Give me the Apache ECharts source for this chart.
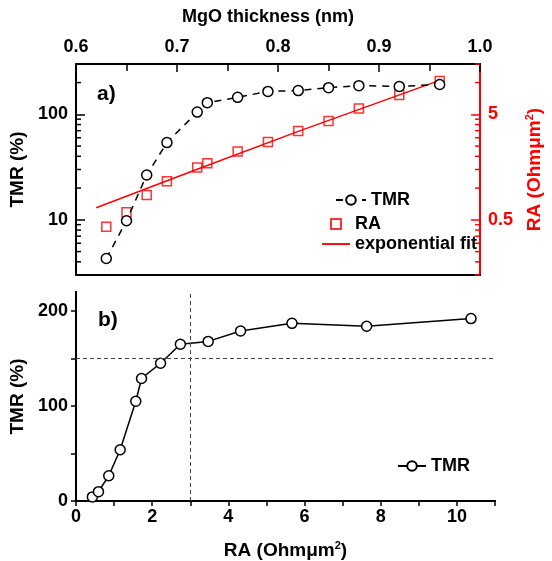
<!DOCTYPE html>
<html>
<head>
<meta charset="utf-8">
<script src="https://cdn.jsdelivr.net/npm/echarts@6/dist/echarts.min.js"></script>
<style>
html,body{margin:0;padding:0;background:#fff;}
#chart{width:552px;height:561px;}
</style>
</head>
<body>
<div id="chart"></div>
<script>
// ---- data ----
const thickness = [0.63, 0.65, 0.67, 0.69, 0.72, 0.73, 0.76, 0.79, 0.82, 0.85, 0.88, 0.92, 0.96];
const tmr = [4.3, 9.8, 26.6, 54, 105, 129, 145, 165, 168, 179, 187, 184, 192];
const ra = [0.43, 0.59, 0.86, 1.16, 1.57, 1.72, 2.22, 2.74, 3.47, 4.32, 5.67, 7.63, 10.37];
const fitThickness = [0.62, 0.72, 0.82, 0.96];
const fitRA = [0.65, 1.51, 3.45, 10.5];
const thicknessLabels = [0.6, 0.7, 0.8, 0.9, 1.0];
const tmrLogMajorTicks = [10, 100];
const tmrLogMinorTicks = [4, 5, 6, 7, 8, 9, 20, 30, 40, 50, 60, 70, 80, 90, 200, 300];
const raMajorTicks = [0.5, 5];
const raMinorTicks = [0.15, 0.2, 0.25, 0.3, 0.35, 0.4, 0.45, 1, 1.5, 2, 2.5, 3, 3.5, 4, 4.5, 10, 15];
const raLinearLabels = [0, 2, 4, 6, 8, 10];
const tmrLinearLabels = [0, 100, 200];
const tmrLinearTicks = [0, 50, 100, 150, 200];
const refRA = 3;
const refTMR = 150;

const F = "'Liberation Sans', Arial, sans-serif";
const RED = '#ff0000';
const lbl = (c) => ({fontFamily: F, fontSize: 18, fontWeight: 'bold', color: c || '#000'});
const axLine = (c) => ({show: true, lineStyle: {color: c || '#000', width: 2}});
const supRich = (c) => ({sup: {fontFamily: F, fontSize: 11, fontWeight: 'bold', color: c, verticalAlign: 'top', padding: [0, 0, 10, 0]}});

// minor tick marks for the log axes, positioned through the axis scale
function tickRenderer(side, len, color) {
  return function (params, api) {
    const cs = params.coordSys;
    const p = api.coord([api.value(0), api.value(1)]);
    const x0 = side === 'left' ? cs.x : cs.x + cs.width;
    const dx = side === 'left' ? len : -len;
    return {type: 'line', shape: {x1: x0, y1: p[1], x2: x0 + dx, y2: p[1]}, style: {stroke: color, lineWidth: 1.5}};
  };
}

const option = {
  animation: false,
  backgroundColor: '#fff',
  textStyle: {fontFamily: F},
  grid: [
    {left: 76, right: 57, top: 64, height: 211},
    {left: 76, right: 57, top: 292, height: 209}
  ],
  xAxis: [
    { // 0: top thickness axis
      type: 'value', gridIndex: 0, position: 'top', min: 0.6, max: 1.0, interval: 0.1,
      axisLine: axLine(), splitLine: {show: false},
      axisTick: {inside: true, length: 8, lineStyle: {width: 1.5, color: '#000'}},
      minorTick: {show: true, splitNumber: 2, length: 7, lineStyle: {width: 1.5, color: '#000'}},
      axisLabel: Object.assign(lbl(), {margin: 8, customValues: thicknessLabels, formatter: v => Number(v).toFixed(1)}),
      name: 'MgO thickness (nm)', nameLocation: 'middle', nameGap: 38,
      nameTextStyle: {fontFamily: F, fontSize: 18, fontWeight: 'bold', color: '#000', padding: [0, 20, 0, 0]}
    },
    { // 1: top panel bottom frame
      type: 'value', gridIndex: 0, position: 'bottom', min: 0.6, max: 1.0,
      axisLine: axLine(), axisTick: {show: false}, axisLabel: {show: false}, splitLine: {show: false}
    },
    { // 2: bottom panel RA axis
      type: 'value', gridIndex: 1, position: 'bottom', min: 0, max: 11, interval: 1,
      axisLine: axLine(), splitLine: {show: false},
      axisTick: {inside: false, length: 5, lineStyle: {width: 1.5, color: '#000'}},
      axisLabel: Object.assign(lbl(), {margin: 7, customValues: raLinearLabels}),
      name: 'RA (Ohmμm{sup|2})', nameLocation: 'middle', nameGap: 39,
      nameTextStyle: {fontFamily: F, fontSize: 19, fontWeight: 'bold', color: '#000', rich: supRich('#000')}
    },
    { // 3: bottom panel top frame
      type: 'value', gridIndex: 1, position: 'top', min: 0, max: 11, interval: 1,
      axisLine: axLine(), splitLine: {show: false},
      axisTick: {inside: true, length: 4, lineStyle: {width: 1.5, color: '#000'}},
      axisLabel: {show: false}
    }
  ],
  yAxis: [
    { // 0: TMR log
      type: 'log', logBase: 10, gridIndex: 0, position: 'left', min: 3, max: 300,
      axisLine: axLine(), splitLine: {show: false}, minorTick: {show: false},
      axisTick: {inside: true, length: 9, customValues: tmrLogMajorTicks, lineStyle: {width: 1.5, color: '#000'}},
      axisLabel: Object.assign(lbl(), {margin: 8, customValues: tmrLogMajorTicks}),
      name: 'TMR (%)', nameLocation: 'middle', nameGap: 43,
      nameTextStyle: {fontFamily: F, fontSize: 19, fontWeight: 'bold', color: '#000'}
    },
    { // 1: RA log (right, red)
      type: 'log', logBase: 10, gridIndex: 0, position: 'right', min: 0.15, max: 15,
      axisLine: axLine(RED), splitLine: {show: false}, minorTick: {show: false},
      axisTick: {inside: true, length: 9, customValues: raMajorTicks, lineStyle: {width: 1.5, color: RED}},
      axisLabel: Object.assign(lbl(RED), {margin: 8, customValues: raMajorTicks}),
      name: 'RA (Ohmμm{sup|2})', nameLocation: 'middle', nameGap: 41, nameRotate: 90,
      nameTextStyle: {fontFamily: F, fontSize: 19, fontWeight: 'bold', color: RED, rich: supRich(RED)}
    },
    { // 2: bottom TMR linear
      type: 'value', gridIndex: 1, position: 'left', min: 0, max: 220,
      axisLine: axLine(), splitLine: {show: false},
      axisTick: {inside: false, length: 5, customValues: tmrLinearTicks, lineStyle: {width: 1.5, color: '#000'}},
      axisLabel: Object.assign(lbl(), {margin: 8, customValues: tmrLinearLabels}),
      name: 'TMR (%)', nameLocation: 'middle', nameGap: 43,
      nameTextStyle: {fontFamily: F, fontSize: 19, fontWeight: 'bold', color: '#000'}
    },
    { // 3: bottom right frame
      type: 'value', gridIndex: 1, position: 'right', min: 0, max: 220,
      axisLine: axLine(), splitLine: {show: false}, axisLabel: {show: false},
      axisTick: {inside: true, length: 5, customValues: tmrLinearTicks, lineStyle: {width: 1.5, color: '#000'}}
    }
  ],
  legend: [
    {data: ['TMR'], left: 330, top: 186, orient: 'vertical', itemWidth: 30, itemHeight: 12, selectedMode: false, textStyle: lbl()},
    {data: [{name: 'RA', icon: 'path://M0,0H10V10H0Z'}, {name: 'exponential fit', icon: 'path://M0,0H30V2H0Z'}],
      left: 317, top: 210, orient: 'vertical', itemWidth: 28, itemHeight: 10, itemGap: 2, selectedMode: false, textStyle: lbl()},
    {data: ['TMR '], left: 392, top: 452, itemWidth: 28, itemHeight: 12, selectedMode: false, textStyle: lbl()}
  ],
  graphic: [
    {type: 'text', left: 97, top: 84, style: {text: 'a)', font: "bold 21px 'Liberation Sans', Arial", fill: '#000'}},
    {type: 'text', left: 98, top: 310, style: {text: 'b)', font: "bold 21px 'Liberation Sans', Arial", fill: '#000'}}
  ],
  series: [
    {name: 'tmr-minor-ticks', type: 'custom', xAxisIndex: 0, yAxisIndex: 0, silent: true, clip: false,
      data: tmrLogMinorTicks.map(v => [0.8, v]), renderItem: tickRenderer('left', 5, '#000')},
    {name: 'ra-minor-ticks', type: 'custom', xAxisIndex: 0, yAxisIndex: 1, silent: true, clip: false,
      data: raMinorTicks.map(v => [0.8, v]), renderItem: tickRenderer('right', 5, RED)},
    {name: 'exponential fit', type: 'line', xAxisIndex: 0, yAxisIndex: 1,
      data: fitThickness.map((t, i) => [t, fitRA[i]]),
      symbol: 'none', lineStyle: {color: RED, width: 1.5}, itemStyle: {color: RED}, z: 2},
    {name: 'RA', type: 'scatter', xAxisIndex: 0, yAxisIndex: 1,
      data: thickness.map((t, i) => [t, ra[i]]),
      symbol: 'path://M0,0H10V10H0Z', symbolSize: 9,
      itemStyle: {color: 'rgba(255,255,255,0)', borderColor: RED, borderWidth: 1.5}, z: 3},
    {name: 'TMR', type: 'line', xAxisIndex: 0, yAxisIndex: 0,
      data: thickness.map((t, i) => [t, tmr[i]]),
      symbol: 'circle', symbolSize: 10, showAllSymbol: true,
      lineStyle: {color: '#000', width: 1.5, type: [7, 6]},
      itemStyle: {color: '#fff', borderColor: '#000', borderWidth: 1.5}, z: 4},
    {name: 'TMR ', type: 'line', xAxisIndex: 2, yAxisIndex: 2,
      data: ra.map((r, i) => [r, tmr[i]]),
      symbol: 'circle', symbolSize: 10, showAllSymbol: true,
      lineStyle: {color: '#000', width: 1.5},
      itemStyle: {color: '#fff', borderColor: '#000', borderWidth: 1.5}, z: 4,
      markLine: {silent: true, symbol: 'none', label: {show: false},
        lineStyle: {color: '#444', width: 1, type: [4, 3]},
        data: [{xAxis: refRA}, {yAxis: refTMR}]}}
  ]
};

const chart = echarts.init(document.getElementById('chart'), null, {renderer: 'canvas'});
chart.setOption(option);
</script>
</body>
</html>
